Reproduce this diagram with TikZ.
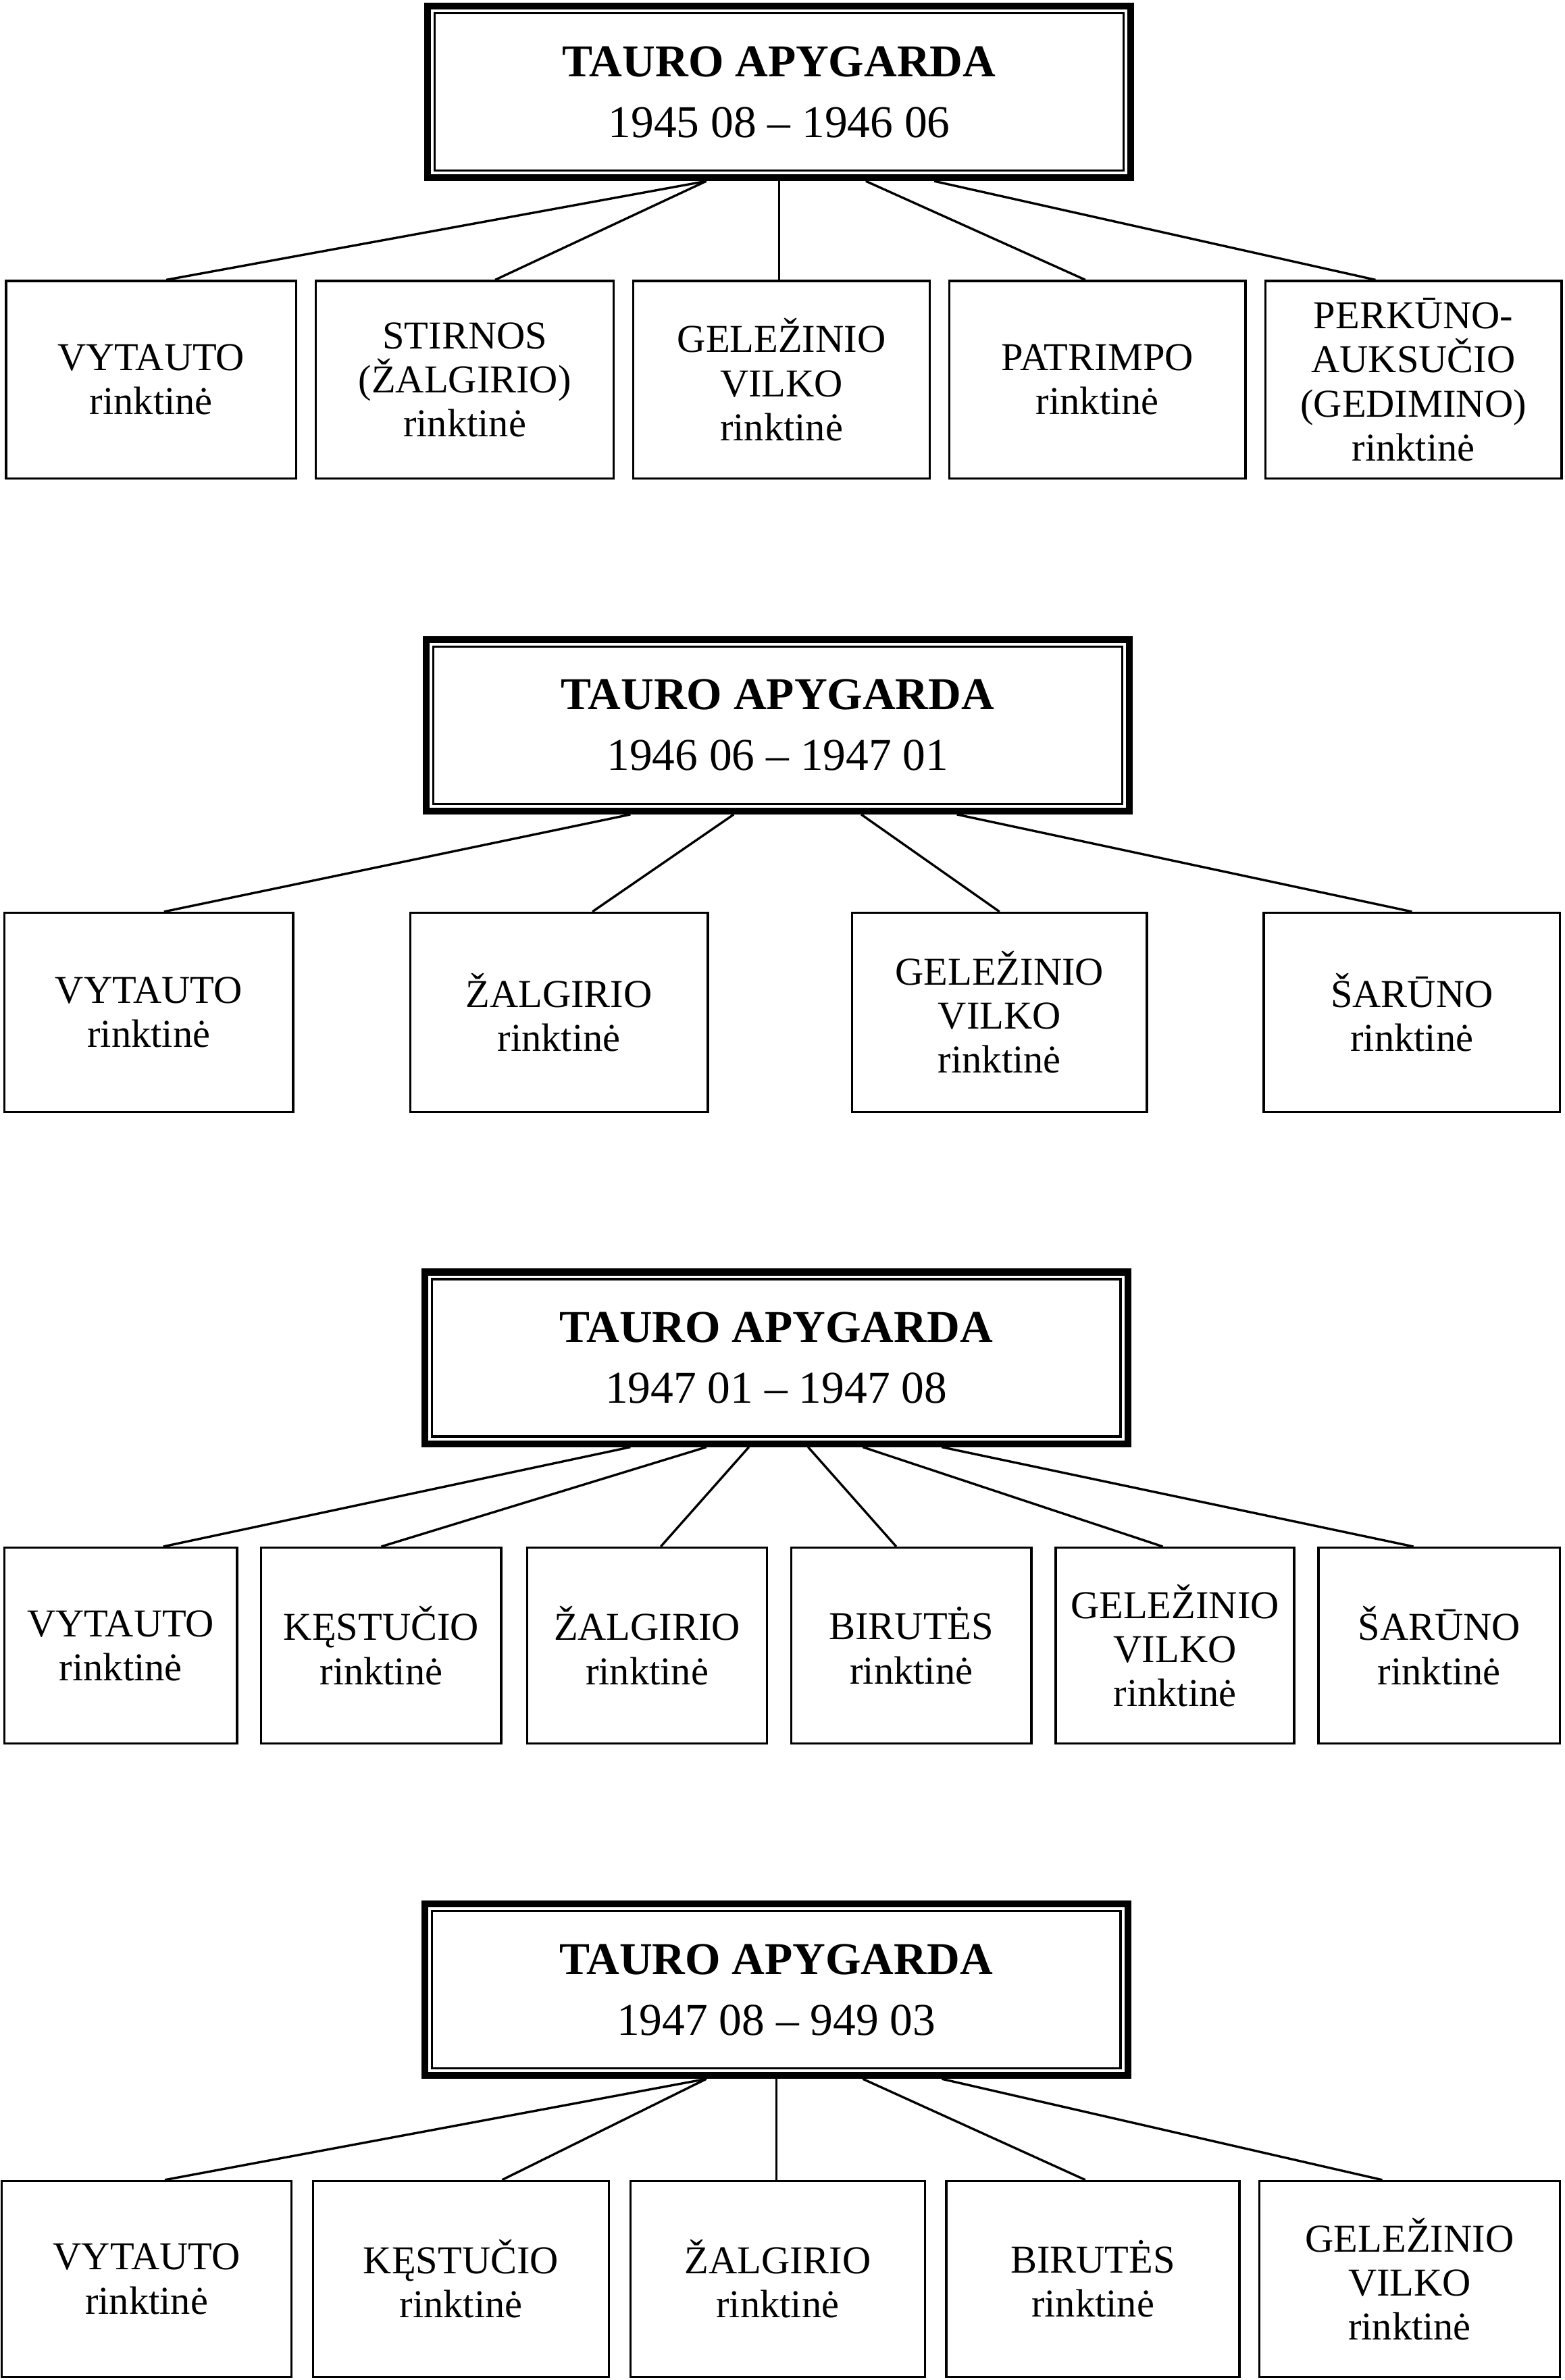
\documentclass[tikz,border=0pt]{standalone}
\usepackage{fontspec}
\setmainfont{Liberation Serif}
\tikzset{
  unit/.style={draw, line width=1.5pt, inner sep=0pt, align=center,
    font=\fontsize{26}{29}\selectfont},
  chief/.style={draw, line width=4.5pt, inner sep=0pt, align=center,
    minimum width=463pt, minimum height=113pt,
    font=\fontsize{30}{40}\selectfont},
  link/.style={line width=1.5pt}
}
\newcommand{\inner}[1]{\draw[line width=1.5pt] ([shift={(7pt,-7pt)}]#1.north west) rectangle ([shift={(-7pt,7pt)}]#1.south east);}
\begin{document}
\begin{tikzpicture}[x=1pt,y=-1pt]
\useasboundingbox (0,0) rectangle (1030,1567);

% 1945 08 - 1946 06
\node[chief] (ta) at (513,60.5) {\textbf{TAURO APYGARDA}\\1945 08 -- 1946 06};
\inner{ta}
\node[unit, minimum width=191pt, minimum height=130pt] (a1) at (99.5,250) {VYTAUTO\\rinktinė};
\node[unit, minimum width=196pt, minimum height=130pt] (a2) at (306,250) {STIRNOS\\(ŽALGIRIO)\\rinktinė};
\node[unit, minimum width=195pt, minimum height=130pt] (a3) at (514.5,250) {GELEŽINIO\\VILKO\\rinktinė};
\node[unit, minimum width=195pt, minimum height=130pt] (a4) at (722.5,250) {PATRIMPO\\rinktinė};
\node[unit, minimum width=195pt, minimum height=130pt] (a5) at (930.5,250) {PERKŪNO-\\AUKSUČIO\\(GEDIMINO)\\rinktinė};
\draw[link] ([xshift=-48pt]ta.south) -- ([xshift=10pt]a1.north);
\draw[link] ([xshift=-48pt]ta.south) -- ([xshift=20pt]a2.north);
\draw[link] (ta.south) -- (ta.south |- a3.north);
\draw[link] ([xshift=57pt]ta.south) -- ([xshift=-8pt]a4.north);
\draw[link] ([xshift=102pt]ta.south) -- ([xshift=-25pt]a5.north);

% 1946 06 - 1947 01
\node[chief] (tb) at (512,477.5) {\textbf{TAURO APYGARDA}\\1946 06 -- 1947 01};
\inner{tb}
\node[unit, minimum width=190pt, minimum height=131pt] (b1) at (98,666.5) {VYTAUTO\\rinktinė};
\node[unit, minimum width=196pt, minimum height=131pt] (b2) at (368,666.5) {ŽALGIRIO\\rinktinė};
\node[unit, minimum width=194pt, minimum height=131pt] (b3) at (658,666.5) {GELEŽINIO\\VILKO\\rinktinė};
\node[unit, minimum width=195pt, minimum height=131pt] (b4) at (929.5,666.5) {ŠARŪNO\\rinktinė};
\draw[link] ([xshift=-97pt]tb.south) -- ([xshift=10pt]b1.north);
\draw[link] ([xshift=-29pt]tb.south) -- ([xshift=22pt]b2.north);
\draw[link] ([xshift=55pt]tb.south) -- (b3.north);
\draw[link] ([xshift=118pt]tb.south) -- (b4.north);

% 1947 01 - 1947 08
\node[chief] (tc) at (511,894) {\textbf{TAURO APYGARDA}\\1947 01 -- 1947 08};
\inner{tc}
\node[unit, minimum width=153pt, minimum height=129pt] (c1) at (79.5,1083.5) {VYTAUTO\\rinktinė};
\node[unit, minimum width=158pt, minimum height=129pt] (c2) at (251,1083.5) {KĘSTUČIO\\rinktinė};
\node[unit, minimum width=158pt, minimum height=129pt] (c3) at (426,1083.5) {ŽALGIRIO\\rinktinė};
\node[unit, minimum width=158pt, minimum height=129pt] (c4) at (600,1083.5) {BIRUTĖS\\rinktinė};
\node[unit, minimum width=157pt, minimum height=129pt] (c5) at (773.5,1083.5) {GELEŽINIO\\VILKO\\rinktinė};
\node[unit, minimum width=159pt, minimum height=129pt] (c6) at (947.5,1083.5) {ŠARŪNO\\rinktinė};
\draw[link] ([xshift=-96pt]tc.south) -- ([xshift=28pt]c1.north);
\draw[link] ([xshift=-46pt]tc.south) -- (c2.north);
\draw[link] ([xshift=-18pt]tc.south) -- ([xshift=9pt]c3.north);
\draw[link] ([xshift=21pt]tc.south) -- ([xshift=-10pt]c4.north);
\draw[link] ([xshift=57pt]tc.south) -- ([xshift=-8pt]c5.north);
\draw[link] ([xshift=109pt]tc.south) -- ([xshift=-17pt]c6.north);

% 1947 08 - 949 03
\node[chief] (td) at (511,1310) {\textbf{TAURO APYGARDA}\\1947 08 -- 949 03};
\inner{td}
\node[unit, minimum width=191pt, minimum height=129pt] (d1) at (96.5,1500.5) {VYTAUTO\\rinktinė};
\node[unit, minimum width=195pt, minimum height=129pt] (d2) at (303.5,1500.5) {KĘSTUČIO\\rinktinė};
\node[unit, minimum width=194pt, minimum height=129pt] (d3) at (512,1500.5) {ŽALGIRIO\\rinktinė};
\node[unit, minimum width=193pt, minimum height=129pt] (d4) at (719.5,1500.5) {BIRUTĖS\\rinktinė};
\node[unit, minimum width=198pt, minimum height=129pt] (d5) at (928,1500.5) {GELEŽINIO\\VILKO\\rinktinė};
\draw[link] ([xshift=-46pt]td.south) -- ([xshift=12pt]d1.north);
\draw[link] ([xshift=-46pt]td.south) -- ([xshift=27pt]d2.north);
\draw[link] (td.south) -- (td.south |- d3.north);
\draw[link] ([xshift=57pt]td.south) -- ([xshift=-5pt]d4.north);
\draw[link] ([xshift=109pt]td.south) -- ([xshift=-18pt]d5.north);
\end{tikzpicture}
\end{document}
